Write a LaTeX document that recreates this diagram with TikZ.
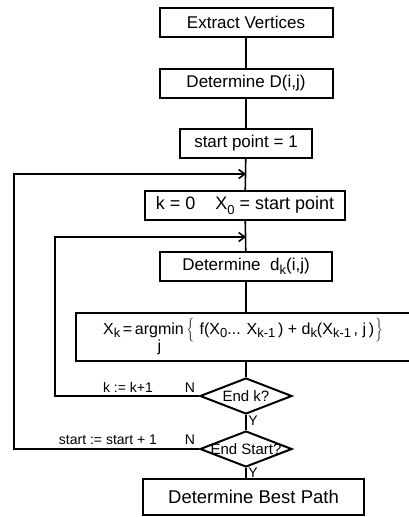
\documentclass[tikz,border=0pt]{standalone}
\usepackage{fontspec}
\setmainfont{Liberation Sans}
\usetikzlibrary{arrows.meta}
\usetikzlibrary{shapes.geometric}
\usetikzlibrary{calc,positioning}

\newcommand{\lowsub}[1]{\raisebox{-0.45ex}{\fontsize{13}{13}\selectfont #1}}

\begin{document}
\begin{tikzpicture}[x=1pt,y=-1pt,>={Straight Barb[length=6pt,width=9pt]},
    process box/.style={draw, line width=2pt, rectangle, inner sep=0pt,
        minimum height=29pt, font=\fontsize{17}{17}\selectfont},
    decision/.style={draw, line width=2pt, diamond, inner sep=0pt,
        minimum width=92pt, minimum height=36pt},
    decision text/.style={inner sep=0pt, font=\fontsize{15}{15}\selectfont},
    flow line/.style={line width=1.6pt},
    edge label/.style={inner sep=1pt, font=\fontsize{14}{14}\selectfont}
]
\useasboundingbox (0,0) rectangle (409,517);

%%% boxes
    \node[process box, minimum width=173pt] (extract) at (246,22.5) {Extract Vertices};
    \node[process box, minimum width=173pt] (detD) at (246,83.5) {Determine D(i,j)};
    \node[process box, minimum width=132pt] (startpt) at (246,143.5) {start point = 1};
    \node[process box, minimum width=200pt, font=\fontsize{18}{18}\selectfont] (init) at (245,205.5)
        {k = 0\hspace{20pt}X\lowsub{0} = start point};
    \node[process box, minimum width=172pt] (detd) at (246,266.5) {Determine\ \ d\lowsub{k}(i,j)};
    \node[process box, minimum width=334pt, minimum height=48pt, font=\fontsize{16}{16}\selectfont] (argmin) at (243,337)
        {X\lowsub{k}\,=\,\begin{tabular}[t]{@{}c@{}}argmin\\[1pt]j\end{tabular}\,$\left\{\vrule height 15pt depth 9pt width 0pt\right.$
        f(X\lowsub{0}... X\lowsub{k-1}\,) + d\lowsub{k}(X\lowsub{k-1}\,, j\,)$\left.\vrule height 15pt depth 9pt width 0pt\right\}$};
    \node[decision, label={[decision text]center:End k?}] (endk) at (246,396) {};
    \node[decision, label={[decision text]center:End Start?}] (endstart) at (246,449) {};
    \node[process box, minimum width=221pt, minimum height=36pt, font=\fontsize{18.5}{18.5}\selectfont] (best) at (253.5,497) {Determine Best Path};

    \coordinate (outer join) at (246,174);
    \coordinate (inner join) at (246,237);
    \coordinate (outer x) at (14,0);
    \coordinate (inner x) at (55,0);

%%% connectors
    \draw[flow line] (extract) -- (detD);
    \draw[flow line] (detD) -- (startpt);
    \draw[flow line] (startpt) -- (init);
    \draw[flow line] (init) -- (detd);
    \draw[flow line] (detd) -- (detd |- argmin.north);
    \draw[flow line] (endk |- argmin.south) -- (endk);
    \draw[flow line] (endk) -- (endstart);
    \draw[flow line] (endstart) -- (endstart |- best.north);

    \draw[flow line, ->] (endk.west) -- (endk.west -| inner x) |- (inner join);
    \draw[flow line, ->] (endstart.west) -- (endstart.west -| outer x) |- (outer join);

%%% labels
    \node[edge label, anchor=base] (kinc) at (128,392) {k := k+1};
    \node[edge label, anchor=base] (nk) at (190,392) {N};
    \node[edge label] (yk) at (253,421) {Y};
    \node[edge label, anchor=base] (sinc) at (108,444) {start := start + 1};
    \node[edge label, anchor=base] (ns) at (190,444) {N};
    \node[edge label] (ys) at (253,473) {Y};

\end{tikzpicture}
\end{document}
